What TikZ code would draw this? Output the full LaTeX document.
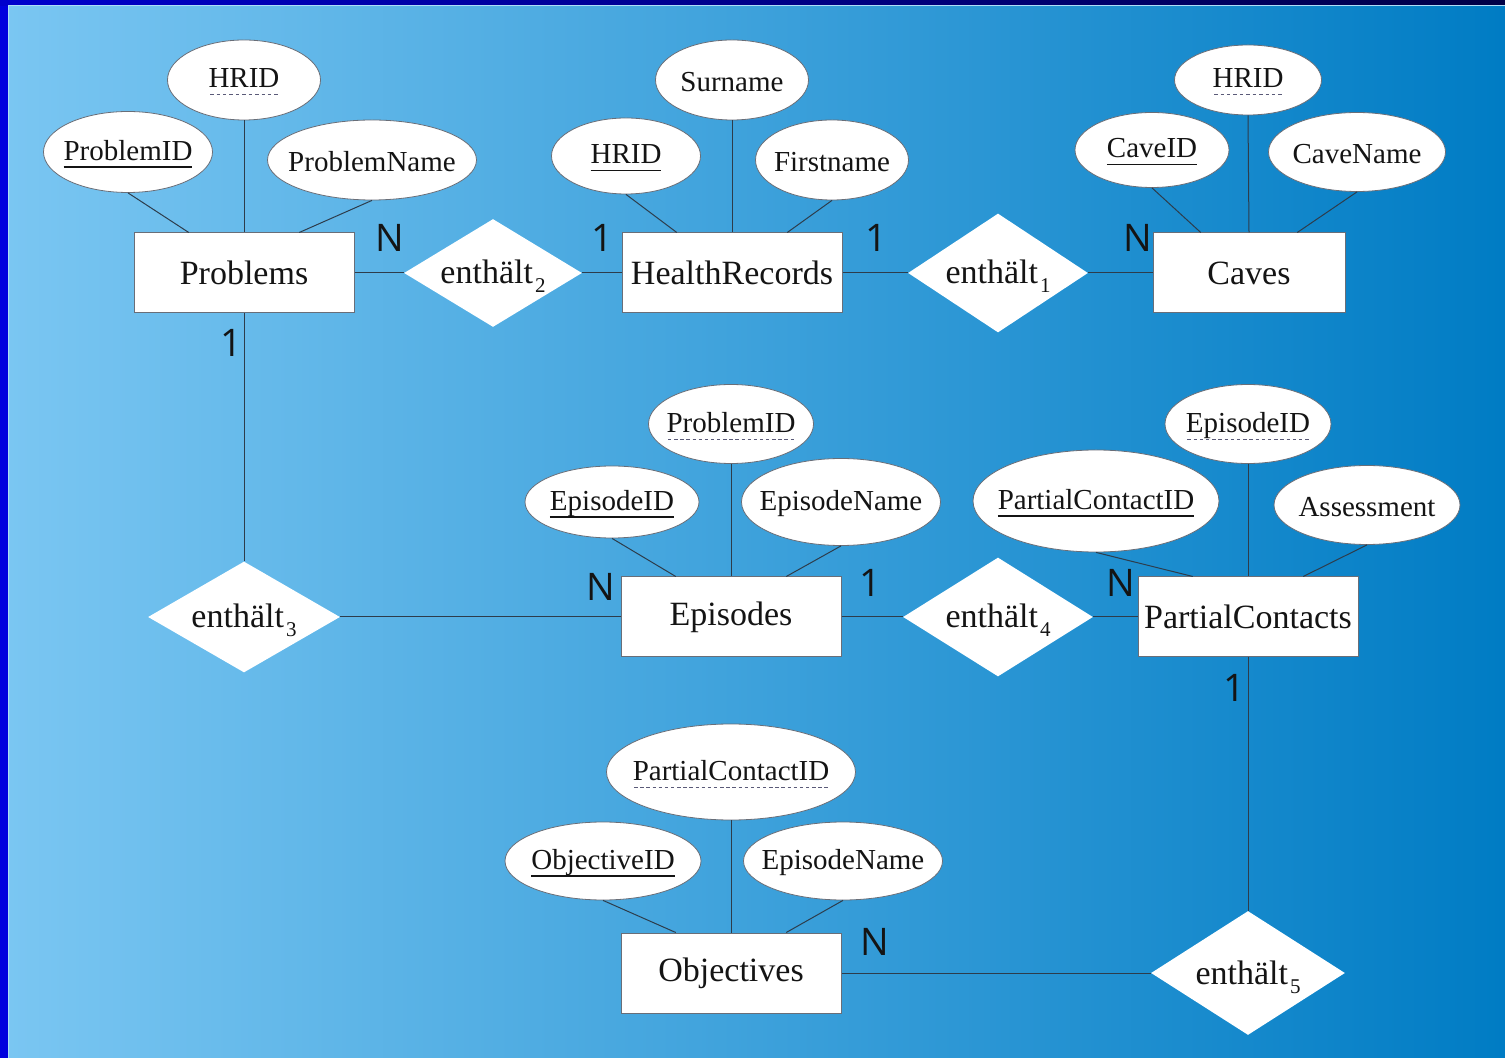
\documentclass[tikz,border=0pt]{standalone}
\usepackage{fontspec}
\setmainfont{Liberation Serif}
\newfontfamily\cardfont{Open Sans}
\usetikzlibrary{calc}
\usetikzlibrary{shapes.geometric}

\definecolor{framebl}{RGB}{0,0,222}
\definecolor{topL}{RGB}{0,0,205}
\definecolor{topR}{RGB}{0,0,70}
\definecolor{bgL}{RGB}{122,198,242}
\definecolor{bgM}{RGB}{28,152,216}
\definecolor{bgR}{RGB}{0,124,196}
\definecolor{edge}{RGB}{105,110,120}
\definecolor{conn}{RGB}{45,60,75}
\definecolor{txt}{RGB}{20,20,20}
\definecolor{dashcol}{RGB}{90,90,120}

\newcommand\entfont{\fontsize{17}{20}\selectfont}
\newcommand\attrfont{\fontsize{14.5}{17}\selectfont}

% underlines for key attributes
\newsavebox\ulbox
\newcommand\keyline[1]{\sbox\ulbox{#1}\rlap{\raisebox{-3.6pt}{\rule{\wd\ulbox}{0.7pt}}}\usebox\ulbox}
\newcommand\fkeyline[1]{\sbox\ulbox{#1}\rlap{\raisebox{-3.6pt}{\color{dashcol}\hbox to \wd\ulbox{\xleaders\hbox to 3pt{\hss\vrule width 1.7pt height 0.45pt\hss}\hfill}}}\usebox\ulbox}
% lowered index of the relationships
\newcommand\relidx[1]{\kern1pt\raisebox{-4.5pt}{\fontsize{10.5}{12}\selectfont #1}}

\tikzset{
  entity/.style={rectangle, draw=edge, fill=white, inner sep=0pt, line width=0.5pt,
    minimum width=110pt, minimum height=40pt, font=\entfont, text=txt},
  rel/.style={diamond, draw=none, fill=white, inner sep=0pt, aspect=1.65,
    text height=14pt, text depth=3pt, font=\entfont, text=txt},
  attr/.style={ellipse, draw=edge, fill=white, inner sep=0pt, line width=0.4pt,
    label={[font=\attrfont, text=txt, yshift=-1pt]center:#1}},
  card/.style={font=\cardfont\fontsize{19}{20}\selectfont, text=txt, inner sep=0pt},
  link/.style={draw=conn, line width=0.5pt},
}

\begin{document}
\begin{tikzpicture}[x=0.5pt, y=-0.5pt]
  \useasboundingbox (0,0) rectangle (1505,1058);

  % slide background
  \fill [framebl] (0,0) rectangle (1505,1058);
  \shade [left color=topL, right color=topR] (0,0) rectangle (1505,6);
  \shade [left color=bgL, middle color=bgM, right color=bgR] (8,6) rectangle (1505,1058);
  \draw [bgL!60!white, line width=0.5pt] (8,1058) -- (8,6) -- (1505,6);

  % entities
  \node [entity] (problems) at (244,273) {Problems};
  \node [entity] (health) at (732,273) {HealthRecords};
  \node [entity, minimum width=96pt] (caves) at (1249,273) {Caves};
  \node [entity] (episodes) at (731,617) {Episodes};
  \node [entity] (partial) at (1248,617) {PartialContacts};
  \node [entity] (objectives) at (731,973) {Objectives};

  % relationships
  \node [rel, minimum width=89pt, minimum height=54pt] (rel2) at (493,273) {enthält\relidx{2}};
  \node [rel, minimum width=90pt, minimum height=59.5pt] (rel1) at (998,273) {enthält\relidx{1}};
  \node [rel, minimum width=96pt, minimum height=55.5pt] (rel3) at (244,617) {enthält\relidx{3}};
  \node [rel, minimum width=95pt, minimum height=59.5pt] (rel4) at (998,617) {enthält\relidx{4}};
  \node [rel, minimum width=97pt, minimum height=62pt] (rel5) at (1248,973) {enthält\relidx{5}};

  % attributes of Problems
  \node [attr={\fkeyline{HRID}}, minimum width=76.5pt, minimum height=40pt] (pHRID) at (244,80) {};
  \node [attr={\keyline{ProblemID}}, minimum width=84.5pt, minimum height=40.5pt] (pID) at (128,152) {};
  \node [attr={ProblemName}, minimum width=104.5pt, minimum height=40pt] (pName) at (372,160) {};

  % attributes of HealthRecords
  \node [attr={Surname}, minimum width=76.5pt, minimum height=40pt] (hSur) at (732,80) {};
  \node [attr={\keyline{HRID}}, minimum width=74.5pt, minimum height=38pt] (hHRID) at (626,156) {};
  \node [attr={Firstname}, minimum width=76.5pt, minimum height=40pt] (hFirst) at (832,160) {};

  % attributes of Caves
  \node [attr={\fkeyline{HRID}}, minimum width=73.5pt, minimum height=35pt] (cHRID) at (1248,80) {};
  \node [attr={\keyline{CaveID}}, minimum width=77pt, minimum height=37.5pt] (cID) at (1152,150) {};
  \node [attr={CaveName}, minimum width=88.5pt, minimum height=39.5pt] (cName) at (1357,152) {};

  % attributes of Episodes
  \node [attr={\fkeyline{ProblemID}}, minimum width=82.5pt, minimum height=39.5pt] (eProb) at (731,424) {};
  \node [attr={\keyline{EpisodeID}}, minimum width=87pt, minimum height=36pt] (eID) at (612,502) {};
  \node [attr={EpisodeName}, minimum width=99.5pt, minimum height=43.5pt] (eName) at (841,502) {};

  % attributes of PartialContacts
  \node [attr={\fkeyline{EpisodeID}}, minimum width=83pt, minimum height=39.5pt] (pcEp) at (1248,424) {};
  \node [attr={\keyline{PartialContactID}}, minimum width=123pt, minimum height=51pt] (pcID) at (1096,501) {};
  \node [attr={Assessment}, minimum width=93pt, minimum height=39.5pt] (pcAss) at (1367,505) {};

  % attributes of Objectives
  \node [attr={\fkeyline{PartialContactID}}, minimum width=124.5pt, minimum height=48pt] (oPC) at (731,772) {};
  \node [attr={\keyline{ObjectiveID}}, minimum width=98pt, minimum height=39pt] (oID) at (603,861) {};
  \node [attr={EpisodeName}, minimum width=99.5pt, minimum height=39pt] (oName) at (843,861) {};

  % attribute links
  \foreach \e/\l/\m/\r in {problems/pID/pHRID/pName, health/hHRID/hSur/hFirst,
    caves/cID/cHRID/cName, episodes/eID/eProb/eName, partial/pcID/pcEp/pcAss,
    objectives/oID/oPC/oName} {
    \draw [link] (\m.south) -- (\e.north);
    \draw [link] (\l.south) -- ($(\e.north west)!0.25!(\e.north east)$);
    \draw [link] (\r.south) -- ($(\e.north west)!0.75!(\e.north east)$);
  }

  % relationship links
  \draw [link] (problems) -- (rel2) -- (health);
  \draw [link] (health) -- (rel1) -- (caves);
  \draw [link] (problems) -- (rel3) -- (episodes);
  \draw [link] (episodes) -- (rel4) -- (partial);
  \draw [link] (partial) -- (rel5) -- (objectives);

  % cardinalities
  \node [card] (c2a) at (390,238) {N};
  \node [card] (c2b) at (602,238) {1};
  \node [card] (c1a) at (876,238) {1};
  \node [card] (c1b) at (1138,238) {N};
  \node [card] (c3a) at (231,343) {1};
  \node [card] (c3b) at (601,587) {N};
  \node [card] (c4a) at (870,583) {1};
  \node [card] (c4b) at (1121,583) {N};
  \node [card] (c5a) at (1234,688) {1};
  \node [card] (c5b) at (875,942) {N};
\end{tikzpicture}
\end{document}
